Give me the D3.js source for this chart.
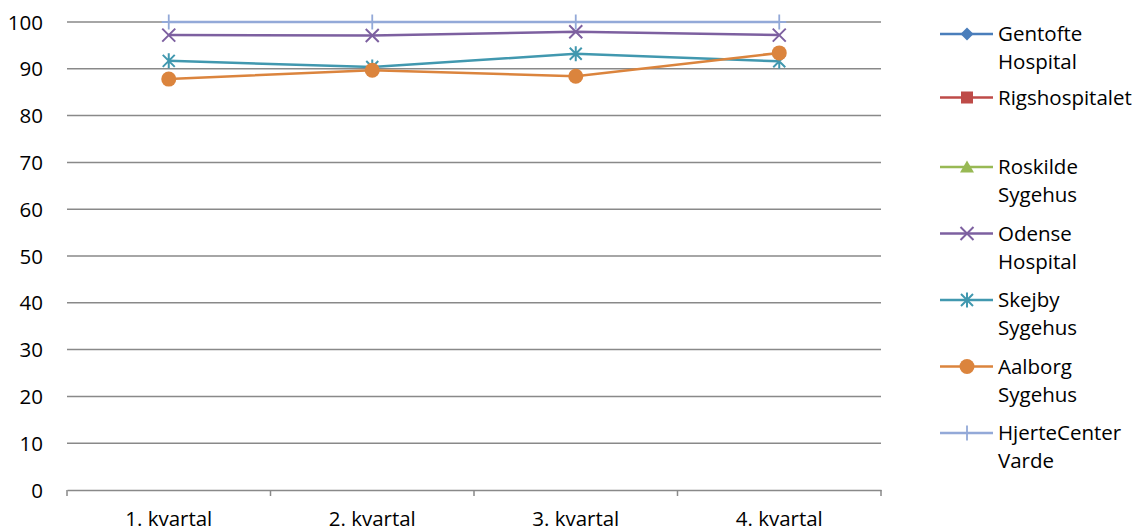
<!DOCTYPE html>
<html><head><meta charset="utf-8">
<script src="https://cdn.jsdelivr.net/npm/d3@7"></script>
<style>body{margin:0;background:#fff}svg{display:block}text{font-family:"Open Sans","Noto Sans",sans-serif;fill:#000}</style>
</head><body><svg id="c" width="1137" height="531"></svg>
<script>
const categories = ["1. kvartal","2. kvartal","3. kvartal","4. kvartal"];
const yTicks = [0,10,20,30,40,50,60,70,80,90,100];
const seriesNames = ["Gentofte Hospital","Rigshospitalet","Roskilde Sygehus","Odense Hospital","Skejby Sygehus","Aalborg Sygehus","HjerteCenter Varde"];
const legendLines = [["Gentofte","Hospital"],["Rigshospitalet"],["Roskilde","Sygehus"],["Odense","Hospital"],["Skejby","Sygehus"],["Aalborg","Sygehus"],["HjerteCenter","Varde"]];
const gentofte = [null,null,null,null];
const rigshospitalet = [null,null,null,null];
const roskilde = [null,null,null,null];
const odense = [97.2,97.1,97.9,97.2];
const skejby = [91.7,90.4,93.2,91.6];
const aalborg = [87.8,89.7,88.4,93.4];
const hjerte = [100,100,100,100];
const colors = ["#4A7EBB","#BE4B48","#98B954","#7D60A0","#4198AF","#DB843D","#93A9D8"];
const markers = ["diamond","square","triangle","x","star","circle","plus"];
const seriesValues = [gentofte,rigshospitalet,roskilde,odense,skejby,aalborg,hjerte];

const FS = "20.5px";
const svg = d3.select("#c");
const L=67,R=881,T=22,B=490;
const x = d3.scaleBand().domain(categories).range([L,R]);
const y = d3.scaleLinear().domain([0,100]).range([B,T]);

// gridlines
svg.append("g").selectAll("line").data(yTicks.filter(d=>d>0)).join("line")
  .attr("x1",L).attr("x2",R).attr("y1",d=>y(d)).attr("y2",d=>y(d))
  .attr("stroke","#898989").attr("stroke-width",1.5);

// y axis labels
const ya = svg.append("g").attr("transform",`translate(${L},0)`)
  .call(d3.axisLeft(y).tickValues(yTicks).tickSize(0).tickPadding(24));
ya.select(".domain").remove();
ya.selectAll("text").style("font-size",FS).attr("dy","0.35em");

// x axis
const xa = svg.append("g").attr("transform",`translate(0,${B})`)
  .call(d3.axisBottom(x).tickSize(0).tickPadding(14));
xa.select(".domain").attr("stroke","#898989").attr("stroke-width",1.5);
xa.selectAll("text").style("font-size",FS).attr("y",29).attr("dy","0.35em");
const bounds = categories.map(c=>x(c)).concat([R]);
xa.selectAll("line.tk").data(bounds).join("line").attr("class","tk")
  .attr("x1",d=>d).attr("x2",d=>d).attr("y1",0).attr("y2",6)
  .attr("stroke","#898989").attr("stroke-width",1.5);

function drawMarker(g,type,color,cx,cy){
  const s=g.append("g").attr("transform",`translate(${cx},${cy})`);
  if(type==="diamond") s.append("path").attr("d","M0,-6.5L6.5,0L0,6.5L-6.5,0Z").attr("fill",color);
  else if(type==="square") s.append("rect").attr("x",-6).attr("y",-6).attr("width",12).attr("height",12).attr("fill",color);
  else if(type==="triangle") s.append("path").attr("d","M0,-6.5L7,5.5L-7,5.5Z").attr("fill",color);
  else if(type==="x") s.append("path").attr("d","M-6.5,-6.5L6.5,6.5M-6.5,6.5L6.5,-6.5").attr("stroke",color).attr("stroke-width",2);
  else if(type==="star") s.append("path").attr("d","M-6,-6L6,6M-6,6L6,-6M0,-7.5L0,7.5").attr("stroke",color).attr("stroke-width",2);
  else if(type==="circle") s.append("circle").attr("r",7.5).attr("fill",color);
  else if(type==="plus") s.append("path").attr("d","M-7,0L7,0M0,-7.5L0,7.5").attr("stroke",color).attr("stroke-width",1.8);
}

const cx = c=>x(c)+x.bandwidth()/2;
seriesValues.forEach((vals,i)=>{
  const pts = categories.map((c,j)=>({c,v:vals[j]})).filter(p=>p.v!=null);
  if(!pts.length) return;
  const g = svg.append("g");
  g.append("path").datum(pts)
    .attr("d",d3.line().x(p=>cx(p.c)).y(p=>y(p.v)))
    .attr("fill","none").attr("stroke",colors[i]).attr("stroke-width",2.5);
  pts.forEach(p=>drawMarker(g,markers[i],colors[i],cx(p.c),y(p.v)));
});

// legend
const lg = svg.append("g");
seriesNames.forEach((n,i)=>{
  const yy = 34 + i*66.5 + (i===1?-3:0);
  lg.append("line").attr("x1",940).attr("x2",993).attr("y1",yy).attr("y2",yy)
    .attr("stroke",colors[i]).attr("stroke-width",2.5);
  drawMarker(lg,markers[i],colors[i],967,yy);
  legendLines[i].forEach((t,k)=>{
    lg.append("text").attr("x",998).attr("y",yy+k*28).attr("dy","0.35em")
      .style("font-size",FS).text(t);
  });
});
</script></body></html>
